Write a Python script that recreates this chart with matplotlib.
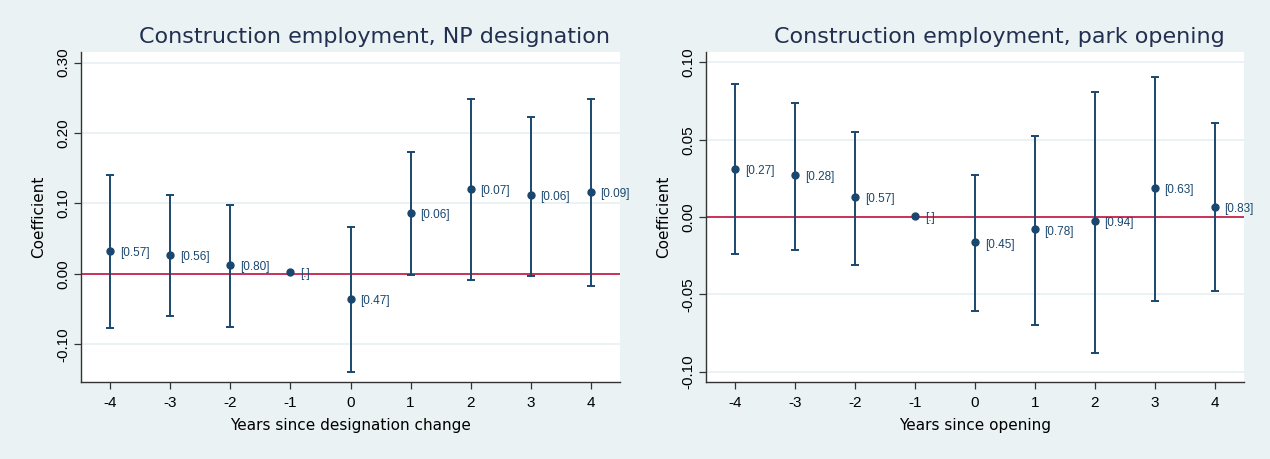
#!/usr/bin/env python3
"""Event-study coefficient plots for construction employment."""

from __future__ import annotations

import matplotlib

matplotlib.use("Agg")

import matplotlib.pyplot as plt
import numpy as np


YEARS = [-4, -3, -2, -1, 0, 1, 2, 3, 4]

# NP designation
NP_COEF = [0.033, 0.027, 0.013, 0.002, -0.036, 0.087, 0.120, 0.112, 0.116]
NP_UPPER = [0.141, 0.112, 0.098, np.nan, 0.066, 0.173, 0.248, 0.223, 0.248]
NP_LOWER = [-0.077, -0.060, -0.075, np.nan, -0.140, -0.002, -0.009, -0.003, -0.017]
NP_PVAL = ["[0.57]", "[0.56]", "[0.80]", "[.]", "[0.47]", "[0.06]", "[0.07]", "[0.06]", "[0.09]"]
NP_YTICKS = [-0.10, 0.00, 0.10, 0.20, 0.30]

# park opening
PARK_COEF = [0.031, 0.027, 0.013, 0.0006, -0.0164, -0.008, -0.0026, 0.0187, 0.0067]
PARK_UPPER = [0.086, 0.074, 0.055, np.nan, 0.027, 0.0526, 0.081, 0.0905, 0.0606]
PARK_LOWER = [-0.024, -0.0216, -0.031, np.nan, -0.061, -0.070, -0.088, -0.054, -0.048]
PARK_PVAL = ["[0.27]", "[0.28]", "[0.57]", "[.]", "[0.45]", "[0.78]", "[0.94]", "[0.63]", "[0.83]"]
PARK_YTICKS = [-0.10, -0.05, 0.00, 0.05, 0.10]

NAVY = "#1a476f"
BG = "#eaf2f3"
REFLINE = "#c8234a"

plt.rcParams["font.family"] = ["Liberation Sans", "DejaVu Sans"]


def event_panel(ax, coef, upper, lower, pvals, yticks, ylim, title, xlabel):
    ax.set_facecolor("white")
    x = np.asarray(YEARS, dtype=float)
    coef = np.asarray(coef, dtype=float)
    upper = np.asarray(upper, dtype=float)
    lower = np.asarray(lower, dtype=float)
    has_ci = ~np.isnan(upper)

    for tick in yticks:
        ax.axhline(tick, color=BG, lw=1.4, zorder=0)
    ax.axhline(0.0, color=REFLINE, lw=1.3, zorder=1)

    ax.errorbar(
        x[has_ci],
        coef[has_ci],
        yerr=[coef[has_ci] - lower[has_ci], upper[has_ci] - coef[has_ci]],
        fmt="none",
        ecolor=NAVY,
        elinewidth=1.4,
        capsize=3,
        capthick=1.4,
        zorder=2,
    )
    ax.plot(x, coef, "o", color=NAVY, ms=5, zorder=3)
    for xi, yi, label in zip(x, coef, pvals):
        ax.annotate(
            label,
            (xi, yi),
            xytext=(7, -1.5),
            textcoords="offset points",
            ha="left",
            va="center",
            fontsize=8.5,
            color=NAVY,
        )

    ax.set_xlim(-4.49, 4.49)
    ax.set_ylim(*ylim)
    ax.set_xticks(YEARS)
    ax.set_xticklabels([str(y) for y in YEARS])
    ax.set_yticks(yticks)
    ax.set_yticklabels([f"{t:.2f}" for t in yticks], rotation=90, va="center")
    ax.tick_params(axis="both", length=5, width=0.9, color="#333333", labelsize=11, pad=3)
    ax.tick_params(axis="x", pad=5)

    for side in ("top", "right"):
        ax.spines[side].set_visible(False)
    for side in ("left", "bottom"):
        ax.spines[side].set_color("#333333")
        ax.spines[side].set_linewidth(1.0)

    ax.set_ylabel("Coefficient", fontsize=11, family="DejaVu Sans", labelpad=7)
    ax.set_xlabel(xlabel, fontsize=11, family="DejaVu Sans", labelpad=6)
    ax.text(
        0.545,
        1.045,
        title,
        transform=ax.transAxes,
        ha="center",
        va="center",
        fontsize=16,
        family="DejaVu Sans",
        color="#22304f",
    )


def main() -> None:
    fig = plt.figure(figsize=(12.7, 4.59), dpi=100, facecolor=BG)
    left = fig.add_axes([0.0638, 0.1678, 0.4244, 0.7189])
    right = fig.add_axes([0.5559, 0.1678, 0.4236, 0.7189])

    event_panel(
        left,
        NP_COEF,
        NP_UPPER,
        NP_LOWER,
        NP_PVAL,
        NP_YTICKS,
        (-0.1536, 0.315),
        "Construction employment, NP designation",
        "Years since designation change",
    )
    event_panel(
        right,
        PARK_COEF,
        PARK_UPPER,
        PARK_LOWER,
        PARK_PVAL,
        PARK_YTICKS,
        (-0.1066, 0.1067),
        "Construction employment, park opening",
        "Years since opening",
    )

    fig.savefig("out.png", dpi=100, facecolor=BG)
    plt.close(fig)


if __name__ == "__main__":
    main()
